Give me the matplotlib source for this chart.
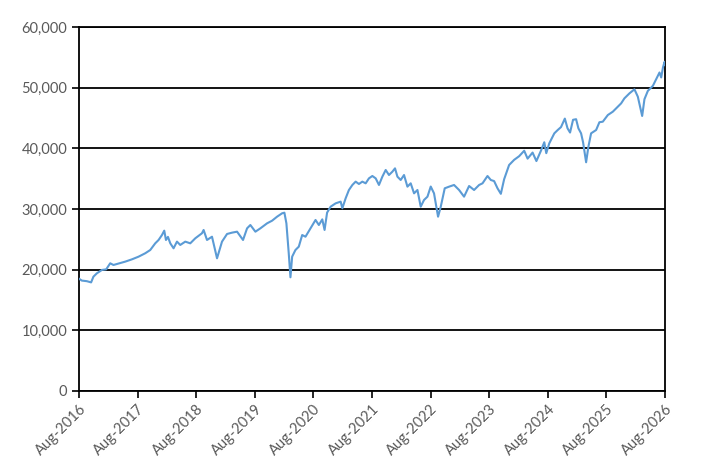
import matplotlib
matplotlib.use("Agg")
import matplotlib.pyplot as plt
import matplotlib.ticker as mticker
import pandas as pd
import numpy as np

# time as decimal years
years = [
    2016.583, 2016.629, 2016.715, 2016.788, 2016.827, 2016.886, 2016.971, 2017.045, 2017.113, 2017.169,
    2017.255, 2017.369, 2017.484, 2017.597, 2017.711, 2017.797, 2017.882, 2017.939, 2017.997, 2018.036,
    2018.065, 2018.099, 2018.139, 2018.195, 2018.253, 2018.309, 2018.395, 2018.480, 2018.566, 2018.680,
    2018.708, 2018.766, 2018.851, 2018.937, 2019.022, 2019.108, 2019.193, 2019.279, 2019.381, 2019.450,
    2019.506, 2019.592, 2019.677, 2019.792, 2019.877, 2019.962, 2020.048, 2020.087, 2020.121, 2020.161,
    2020.190, 2020.219, 2020.275, 2020.332, 2020.390, 2020.446, 2020.532, 2020.617, 2020.674, 2020.732,
    2020.771, 2020.814, 2020.874, 2020.959, 2021.045, 2021.074, 2021.130, 2021.186, 2021.245, 2021.301,
    2021.357, 2021.415, 2021.472, 2021.528, 2021.586, 2021.643, 2021.699, 2021.757, 2021.814, 2021.870,
    2021.928, 2021.973, 2022.014, 2022.070, 2022.127, 2022.185, 2022.241, 2022.298, 2022.356, 2022.412,
    2022.468, 2022.527, 2022.583, 2022.639, 2022.708, 2022.754, 2022.822, 2022.896, 2022.981, 2023.067,
    2023.152, 2023.238, 2023.323, 2023.409, 2023.467, 2023.552, 2023.609, 2023.665, 2023.723, 2023.780,
    2023.836, 2023.921, 2024.007, 2024.092, 2024.178, 2024.236, 2024.321, 2024.386, 2024.463, 2024.520,
    2024.554, 2024.605, 2024.691, 2024.749, 2024.805, 2024.870, 2024.916, 2024.959, 2025.010, 2025.062,
    2025.101, 2025.147, 2025.181, 2025.233, 2025.272, 2025.318, 2025.404, 2025.460, 2025.518, 2025.604,
    2025.689, 2025.774, 2025.831, 2025.887, 2025.973, 2026.058, 2026.116, 2026.161, 2026.190, 2026.229,
    2026.287, 2026.373, 2026.429, 2026.486, 2026.515, 2026.545, 2026.572, 2026.583,
]
values = [
    18500, 18200, 18100, 17900, 18840, 19400, 19950, 20050, 21050, 20770,
    21000, 21320, 21700, 22140, 22700, 23240, 24340, 24890, 25710, 26430,
    24890, 25400, 24340, 23520, 24620, 24070, 24620, 24340, 25170, 26000,
    26540, 24890, 25430, 21870, 24620, 25880, 26100, 26260, 24890, 26810,
    27360, 26260, 26810, 27640, 28070, 28730, 29290, 29390, 27640, 22700,
    18740, 22140, 23240, 23790, 25710, 25430, 26810, 28190, 27360, 28290,
    26540, 29400, 30380, 30930, 31210, 30120, 31760, 33130, 33960, 34510,
    34120, 34510, 34230, 35050, 35440, 35050, 33960, 35330, 36430, 35600,
    36150, 36700, 35330, 34780, 35600, 33680, 34230, 32580, 33130, 30380,
    31480, 32030, 33700, 32580, 28730, 30380, 33410, 33680, 33960, 33130,
    32030, 33790, 33130, 33960, 34230, 35440, 34780, 34600, 33410, 32500,
    34900, 37250, 38100, 38700, 39600, 38300, 39300, 37900, 39600, 41000,
    39200, 40820, 42470, 43020, 43500, 44900, 43300, 42600, 44700, 44800,
    43300, 42470, 41000, 37700, 40270, 42470, 43020, 44300, 44390, 45490,
    46040, 46860, 47410, 48240, 49060, 49730, 48510, 46590, 45330, 48100,
    49470, 50300, 51400, 52500, 51680, 53330, 54260, 53800,
]
tick_labels = ["Aug-2016", "Aug-2017", "Aug-2018", "Aug-2019", "Aug-2020", "Aug-2021",
               "Aug-2022", "Aug-2023", "Aug-2024", "Aug-2025", "Aug-2026"]


def to_date(y):
    yi = int(np.floor(y))
    start = pd.Timestamp(year=yi, month=1, day=1)
    end = pd.Timestamp(year=yi + 1, month=1, day=1)
    return start + (end - start) * (y - yi)


dates = [to_date(y) for y in years]
tick_dates = [pd.Timestamp(year=int(s[-4:]), month=8, day=1) for s in tick_labels]

plt.rcParams['font.family'] = ['Lato', 'DejaVu Sans']

fig = plt.figure(figsize=(7.10, 4.76), dpi=100)
ax = fig.add_axes([0.1113, 0.1786, 0.8254, 0.7647])

ax.plot(dates, values, color="#5B9BD5", lw=1.5, zorder=3)

ax.set_ylim(0, 60000)
ax.set_yticks(np.arange(0, 60001, 10000))
ax.yaxis.set_major_formatter(mticker.FuncFormatter(lambda v, p: f"{int(v):,}"))
ax.set_xlim(tick_dates[0], tick_dates[-1])
ax.set_xticks(tick_dates)
ax.set_xticklabels(tick_labels, rotation=45, ha="right", rotation_mode="anchor")

ax.grid(axis="y", color="black", lw=1.3, zorder=1)
ax.set_axisbelow(True)
for s in ax.spines.values():
    s.set_color("black")
    s.set_linewidth(1.3)

ax.tick_params(axis="both", direction="out", length=5, width=1.2, color="black",
               labelcolor="#595959", labelsize=10.5)
ax.tick_params(axis="x", pad=3)

fig.savefig("out.png", dpi=100)
